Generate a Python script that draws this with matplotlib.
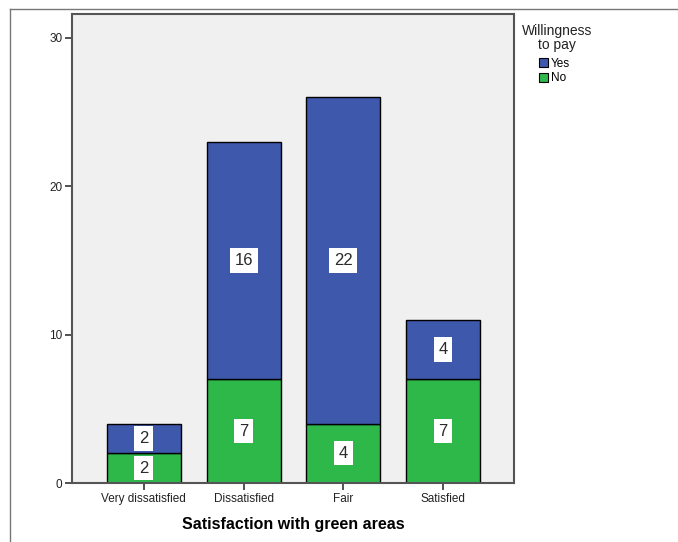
import numpy as np
import matplotlib.pyplot as plt
from matplotlib.lines import Line2D
from matplotlib.patches import Patch

# data
categories = ["Very dissatisfied", "Dissatisfied", "Fair", "Satisfied"]
no_counts = [2, 7, 4, 7]
yes_counts = [2, 16, 22, 4]
y_ticks = [0, 10, 20, 30]

BLUE = "#3E58AC"
GREEN = "#2EB84A"
FONT = "Liberation Sans"

fig = plt.figure(figsize=(6.78, 5.42), dpi=100)
W, H = 678, 542
ax = fig.add_axes([72 / W, 1 - 483 / H, (514 - 72) / W, (483 - 14) / H])
ax.set_facecolor("#F0F0F0")

x = np.arange(len(categories))
width = 0.74
ax.bar(x, no_counts, width, color=GREEN, edgecolor="black", linewidth=1)
ax.bar(x, yes_counts, width, bottom=no_counts, color=BLUE, edgecolor="black", linewidth=1)

# value labels in white boxes
box = dict(boxstyle="square,pad=0.28", facecolor="white", edgecolor="none")
for i in range(len(categories)):
    ax.text(x[i], no_counts[i] / 2, str(no_counts[i]), ha="center", va="center",
            fontsize=12, family=FONT, color="#2a2a2a", bbox=box)
    ax.text(x[i], no_counts[i] + yes_counts[i] / 2, str(yes_counts[i]), ha="center",
            va="center", fontsize=12, family=FONT, color="#2a2a2a", bbox=box)

ax.set_xlim(-0.72, 3.71)
ax.set_ylim(0, 31.6)
ax.set_xticks(x)
ax.set_xticklabels(categories, family=FONT, fontsize=8.5, color="#222222")
ax.set_yticks(y_ticks)
ax.set_yticklabels([str(t) for t in y_ticks], family=FONT, fontsize=8.5, color="#222222")
ax.tick_params(direction="out", length=5, width=1.2, color="#333333", pad=2)
for s in ax.spines.values():
    s.set_color("#555555")
    s.set_linewidth(1.5)

ax.set_xlabel("Satisfaction with green areas", family=FONT, fontsize=11.5,
              fontweight="bold", labelpad=9)

# legend
fig.text(557 / W, 1 - 38 / H, "Willingness\nto pay", ha="center", va="center",
         family=FONT, fontsize=10, color="#222222", linespacing=1.0)
handles = [Patch(facecolor=BLUE, edgecolor="black", linewidth=0.8),
           Patch(facecolor=GREEN, edgecolor="black", linewidth=0.8)]
fig.legend(handles, ["Yes", "No"], loc="upper left", bbox_to_anchor=(539 / W, 1 - 58 / H),
           frameon=False, prop={"family": FONT, "size": 8.5}, handlelength=0.8,
           handleheight=0.8, handletextpad=0.2, labelspacing=0.2, borderpad=0,
           borderaxespad=0)

# outer frame lines (top and left)
fig.add_artist(Line2D([10 / W, 1], [1 - 9 / H, 1 - 9 / H], color="#777777", linewidth=1))
fig.add_artist(Line2D([10 / W, 10 / W], [0, 1 - 9 / H], color="#777777", linewidth=1))

fig.savefig("out.png", dpi=100)
